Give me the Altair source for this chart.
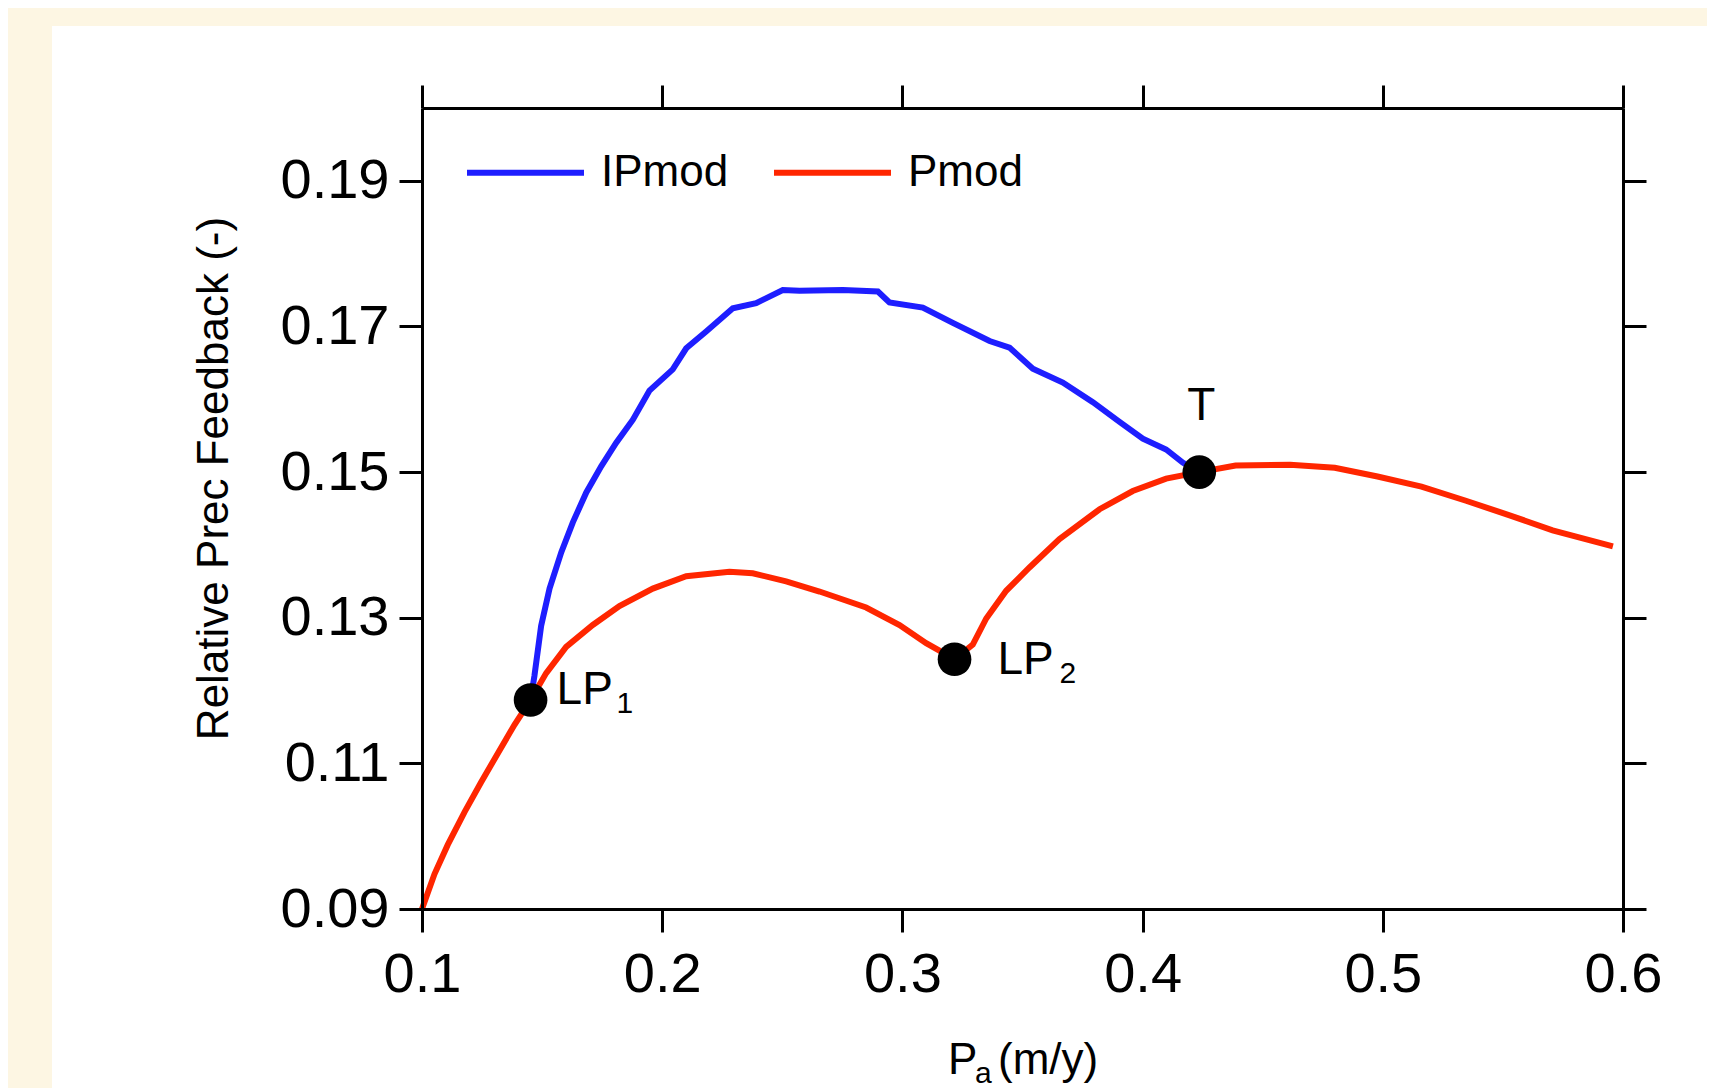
import altair as alt
import pandas as pd

# ---------------- data ----------------
series_names = ["IPmod", "Pmod"]
series_colors = ["#1e1eff", "#ff2600"]

ipmod_x = [0.1452, 0.1468, 0.1496, 0.1531, 0.1580, 0.1628, 0.1684, 0.1746, 0.1808, 0.1878,
           0.1947, 0.2044, 0.2100, 0.2183, 0.2294, 0.2391, 0.2502, 0.2572, 0.2752, 0.2898,
           0.2946, 0.3085, 0.3210, 0.3363, 0.3446, 0.3543, 0.3668, 0.3793, 0.3904, 0.4001,
           0.4098, 0.4167, 0.4236]
ipmod_y = [0.1187, 0.1220, 0.1289, 0.1340, 0.1390, 0.1431, 0.1472, 0.1508, 0.1540, 0.1572,
           0.1612, 0.1641, 0.1670, 0.1693, 0.1725, 0.1732, 0.1750, 0.1749, 0.1750, 0.1748,
           0.1733, 0.1726, 0.1705, 0.1680, 0.1671, 0.1642, 0.1623, 0.1596, 0.1569, 0.1546,
           0.1531, 0.1513, 0.1500]

pmod_x = [0.1000, 0.1052, 0.1107, 0.1177, 0.1246, 0.1316, 0.1385, 0.1452, 0.1517, 0.1600,
          0.1711, 0.1822, 0.1961, 0.2100, 0.2280, 0.2377, 0.2516, 0.2655, 0.2849, 0.2988,
          0.3099, 0.3217, 0.3293, 0.3349, 0.3432, 0.3529, 0.3654, 0.3821, 0.3959, 0.4098,
          0.4236, 0.4387, 0.4614, 0.4800, 0.4978, 0.5161, 0.5343, 0.5525, 0.5707, 0.5958]
pmod_y = [0.0900, 0.0948, 0.0988, 0.1033, 0.1074, 0.1114, 0.1153, 0.1187, 0.1224, 0.1260,
          0.1290, 0.1316, 0.1340, 0.1357, 0.1363, 0.1361, 0.1350, 0.1336, 0.1314, 0.1290,
          0.1265, 0.1243, 0.1263, 0.1299, 0.1337, 0.1369, 0.1408, 0.1449, 0.1474, 0.1491,
          0.1500, 0.1509, 0.1510, 0.1506, 0.1494, 0.1480, 0.1461, 0.1441, 0.1420, 0.1398]

point_x = [0.1452, 0.3217, 0.4236]
point_y = [0.1187, 0.1243, 0.1500]
point_main = ["LP", "LP", "T"]
point_sub = ["1", "2", ""]

x_ticks = [0.1, 0.2, 0.3, 0.4, 0.5, 0.6]
y_ticks = [0.09, 0.11, 0.13, 0.15, 0.17, 0.19]
x_domain = [0.1, 0.6]
y_domain = [0.09, 0.20]

y_title = "Relative Prec Feedback (-)"
x_title_main = "P"
x_title_sub = "a"
x_title_rest = "(m/y)"

# ---------------- tables ----------------
lines_df = pd.DataFrame({
    "Pa": ipmod_x + pmod_x,
    "fb": ipmod_y + pmod_y,
    "series": [series_names[0]] * len(ipmod_x) + [series_names[1]] * len(pmod_x),
    "order": list(range(len(ipmod_x))) + list(range(len(pmod_x))),
})
pts_df = pd.DataFrame({"Pa": point_x, "fb": point_y, "main": point_main,
                       "sub": point_sub, "i": [0, 1, 2]})
one = pd.DataFrame({"k": [0]})

FONT = "Liberation Sans"
W, H = 1201, 801
PAD = {"left": 414, "top": 100, "right": 84, "bottom": 179}
BG = "#fdf6e3"

xs = alt.Scale(domain=x_domain, nice=False, zero=False)
ys = alt.Scale(domain=y_domain, nice=False, zero=False)

common = dict(domainColor="black", domainWidth=3, tickColor="black", tickWidth=3,
              tickSize=23, grid=False, zindex=1, labelFont=FONT, labelColor="black",
              labelFontSize=56, labelFlush=False)

x_axis = alt.Axis(values=x_ticks, format=".1f", labelPadding=15, title=None, **common)
y_axis = alt.Axis(values=y_ticks, format=".2f", labelPadding=10, title=y_title,
                  titleFont=FONT, titleFontSize=44, titleFontWeight="normal",
                  titleColor="black", titleAngle=270, titleAlign="center",
                  titleBaseline="middle", titleX=-208, titleY=370, **common)

X = alt.X("Pa:Q", scale=xs, axis=x_axis)
Y = alt.Y("fb:Q", scale=ys, axis=y_axis)

panel = alt.Chart(one).mark_rect(color="white").encode(
    x=alt.value(52 - 8 - PAD["left"]), x2=alt.value(2000),
    y=alt.value(26 - 8 - PAD["top"]), y2=alt.value(2000))

lines = alt.Chart(lines_df).mark_line(strokeWidth=6).encode(
    x=X, y=Y,
    color=alt.Color("series:N",
                    scale=alt.Scale(domain=series_names, range=series_colors),
                    legend=alt.Legend(orient="none", legendX=42, legendY=3,
                                      direction="horizontal", symbolType="stroke",
                                      symbolSize=13689, symbolStrokeWidth=6,
                                      labelFont=FONT, labelFontSize=44,
                                      labelColor="black", labelOffset=14,
                                      columnPadding=33, title=None, padding=0,
                                      zindex=2)),
    order="order:Q")

points = alt.Chart(pts_df).mark_circle(size=1134, color="black", opacity=1).encode(x=X, y=Y)

def label(i, field, size, dx, dy, align="left"):
    return alt.Chart(pts_df).transform_filter(alt.datum.i == i).mark_text(
        font=FONT, fontSize=size, color="black", align=align, baseline="alphabetic",
        dx=dx, dy=dy).encode(x=X, y=Y, text=f"{field}:N")

texts = [
    label(0, "main", 46, 26, 4), label(0, "sub", 30, 86, 13),
    label(1, "main", 46, 43, 15), label(1, "sub", 30, 105, 24),
    label(2, "main", 46, 2, -52, align="center"),
]

def xt(txt, px, py, size):
    return alt.Chart(one).mark_text(text=txt, font=FONT, fontSize=size, color="black",
                                    align="left", baseline="alphabetic").encode(
        x=alt.value(px), y=alt.value(py))

xtitle = [xt(x_title_main, 526, 966, 44), xt(x_title_sub, 553, 975, 30),
          xt(x_title_rest, 576, 966, 44)]

inner = alt.layer(panel, lines, points, *texts, *xtitle)

frame = alt.Chart(pts_df).mark_point(opacity=0).encode(
    x=alt.X("Pa:Q", scale=xs, axis=alt.Axis(orient="top", values=x_ticks, labels=False,
                                            title=None, **common)),
    y=alt.Y("fb:Q", scale=ys, axis=alt.Axis(orient="right", values=y_ticks, labels=False,
                                            title=None, **common)))

chart = alt.layer(inner, frame).resolve_axis(x="independent", y="independent").properties(
    width=W, height=H, autosize=alt.AutoSizeParams(type="none"), padding=PAD,
    background=BG).configure_view(strokeWidth=0)

chart.save("out.html", embed_options={"renderer": "svg", "actions": False})
